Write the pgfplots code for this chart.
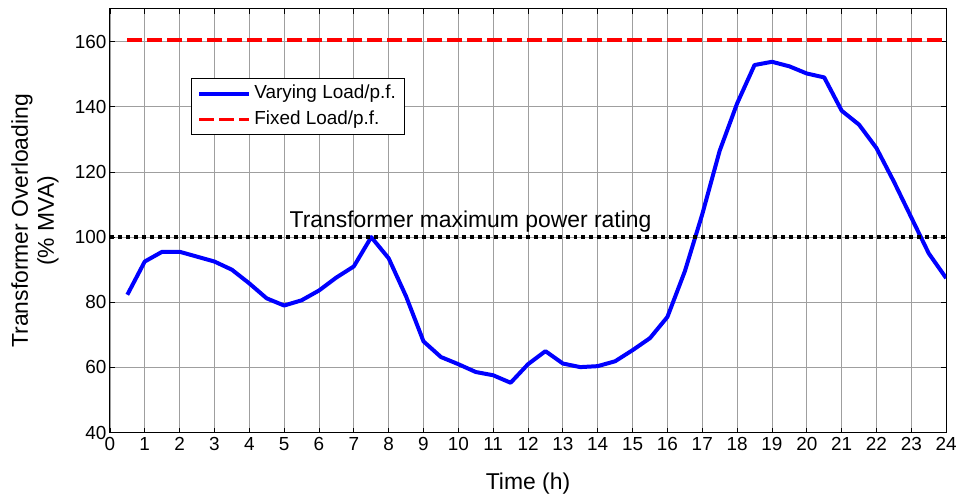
\documentclass[border=0pt]{standalone}
\usepackage{pgfplots}
\pgfplotsset{compat=1.18}
\usepackage{fontspec}
\setmainfont{Liberation Sans}
\begin{document}
\begin{tikzpicture}
\begin{axis}[
  name=a,
  scale only axis,
  width=837bp, height=424bp,
  xmin=0, xmax=24, ymin=40, ymax=170,
  xtick={0,1,...,24}, ytick={40,60,...,160},
  grid=major,
  major grid style={gray!75, line width=0.8bp},
  tick align=inside,
  major tick length=5bp,
  axis line style={black, line width=1bp},
  tick style={black, line width=0.8bp},
  ticklabel style={font=\fontsize{19}{22}\selectfont},
  /pgf/number format/assume math mode=true,
  xticklabel style={yshift=-1bp},
  xlabel={Time (h)},
  ylabel={Transformer Overloading\\(\% MVA)},
  ylabel style={align=center, font=\fontsize{23}{26}\selectfont,
    at={(axis description cs:-0.0896,0.5)}, anchor=center},
  xlabel style={font=\fontsize{23}{26}\selectfont,
    at={(axis description cs:0.5,-0.12)}, anchor=center},
  legend style={at={(0.0968,0.837)}, anchor=north west, draw=black, line width=1bp,
    font=\fontsize{19}{22}\selectfont, row sep=2bp, inner xsep=6bp, inner ysep=3bp,
    nodes={inner sep=3bp, text height=14bp, text depth=4bp}},
  legend cell align=left,
  legend image code/.code={\draw[#1, line width=4bp] (0bp,0bp) -- (50bp,0bp);},
]
\addplot[blue, line width=4bp, line join=round] coordinates {
(0.5,82.3)(1,92.5)(1.5,95.5)(2,95.5)(2.5,94)(3,92.5)(3.5,90)(4,85.8)(4.5,81.2)(5,79)
(5.5,80.6)(6,83.6)(6.5,87.6)(7,91)(7.5,100)(8,93.5)(8.5,81.8)(9,68)(9.5,63.2)(10,61)
(10.5,58.6)(11,57.6)(11.5,55.3)(12,61)(12.5,65)(13,61.2)(13.5,60.1)(14,60.4)(14.5,61.9)(15,65.3)
(15.5,69)(16,75.5)(16.5,89.5)(17,107)(17.5,126.5)(18,141)(18.5,152.8)(19,153.8)(19.5,152.4)(20,150.2)
(20.5,149)(21,138.8)(21.5,134.5)(22,127.3)(22.5,117)(23,106)(23.5,95)(24,87.4)
};
\addlegendentry{Varying Load/p.f.}
\addplot[red, line width=4bp, dash pattern=on 15bp off 5bp] coordinates {(0.5,160.6)(24,160.6)};
\addlegendentry{Fixed Load/p.f.}
\addplot[black, line width=4bp, dash pattern=on 4bp off 4bp, forget plot] coordinates {(0,100)(24,100)};
\node[anchor=base, font=\fontsize{23}{26}\selectfont, inner sep=0bp] at (axis cs:10.35,103) {Transformer maximum power rating};
\end{axis}
\useasboundingbox (a.south west) ++(-110bp,-62bp) rectangle ([shift={(13bp,9bp)}]a.north east);
\end{tikzpicture}
\end{document}
